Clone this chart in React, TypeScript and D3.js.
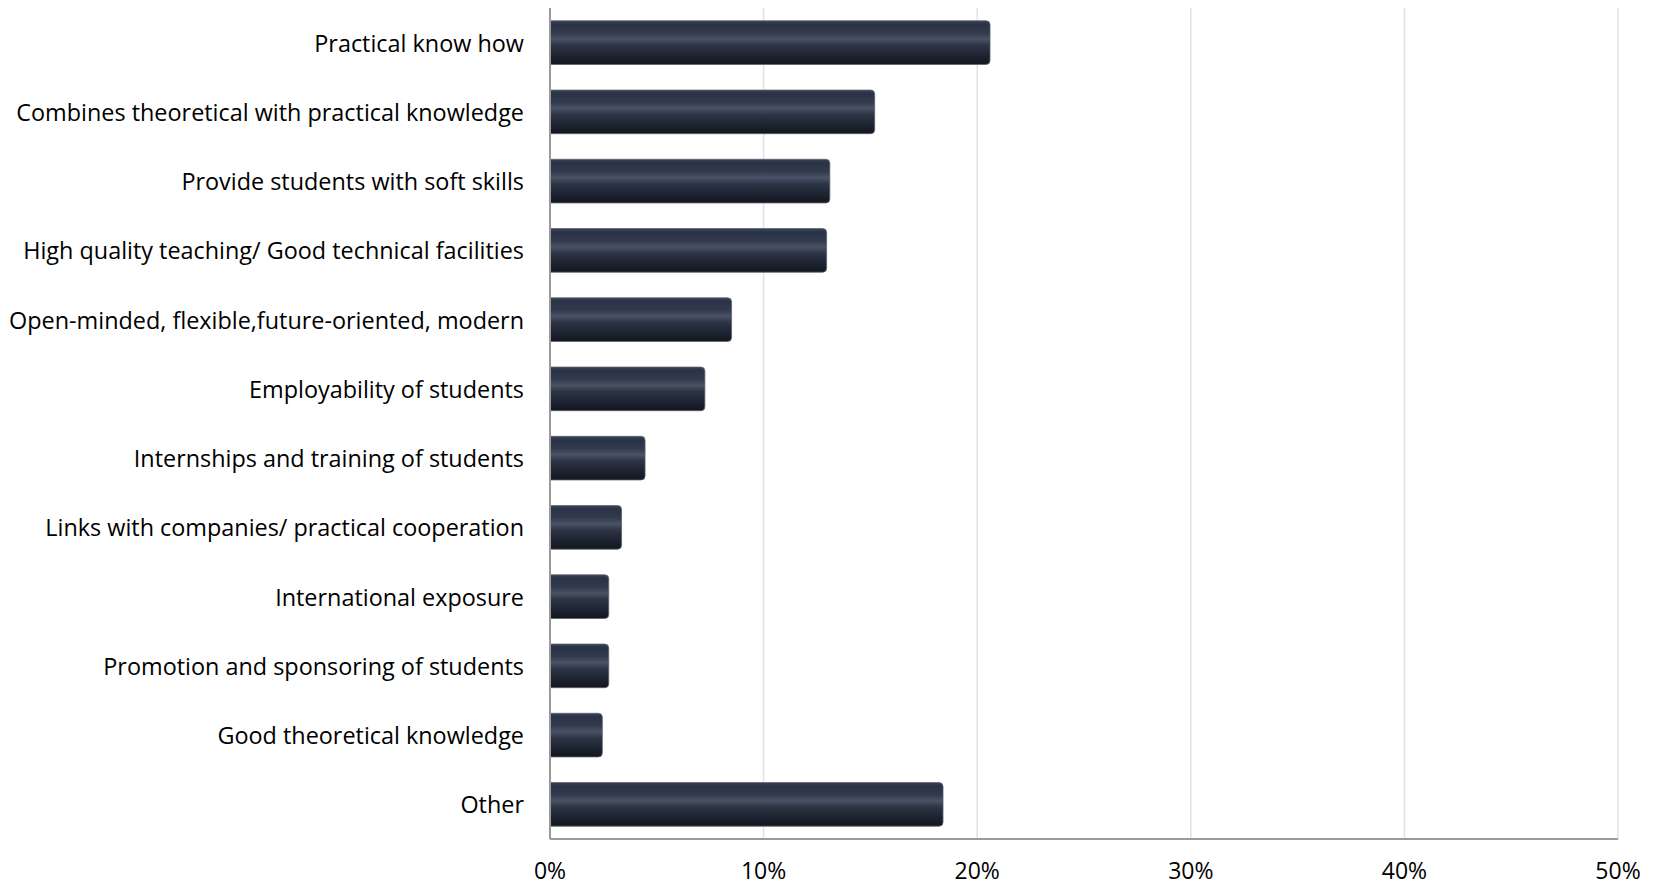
import React from "react";
import * as d3 from "d3";

const categories: string[] = [
  "Practical know how",
  "Combines theoretical with practical knowledge",
  "Provide students with soft skills",
  "High quality teaching/ Good technical facilities",
  "Open-minded, flexible,future-oriented, modern",
  "Employability of students",
  "Internships and training of students",
  "Links with companies/ practical cooperation",
  "International exposure",
  "Promotion and sponsoring of students",
  "Good theoretical knowledge",
  "Other",
];

const values: number[] = [20.6, 15.2, 13.1, 12.95, 8.5, 7.25, 4.45, 3.35, 2.75, 2.75, 2.45, 18.4];

const xTicks: number[] = [0, 10, 20, 30, 40, 50];

const W = 1654;
const H = 885;
const M = { left: 550, right: 36, top: 8, bottom: 46 };

export default function App() {
  const x = d3.scaleLinear().domain([0, 50]).range([M.left, W - M.right]);
  const y = d3
    .scaleBand<string>()
    .domain(categories)
    .range([M.top, H - M.bottom])
    .paddingInner(0.37)
    .paddingOuter(0.185);
  const bh = y.bandwidth();
  const font = "'Open Sans', 'Noto Sans', sans-serif";
  const r = 4;

  const barPath = (x0: number, x1: number, y0: number, h: number) => {
    const p = d3.path();
    p.moveTo(x0, y0);
    p.lineTo(x1 - r, y0);
    p.quadraticCurveTo(x1, y0, x1, y0 + r);
    p.lineTo(x1, y0 + h - r);
    p.quadraticCurveTo(x1, y0 + h, x1 - r, y0 + h);
    p.lineTo(x0, y0 + h);
    p.closePath();
    return p.toString();
  };

  return (
    <svg width={W} height={H} style={{ position: "absolute", left: 0, top: 0, background: "#fff" }}>
      <defs>
        <linearGradient id="barGrad" x1="0" y1="0" x2="0" y2="1">
          <stop offset="0" stopColor="#3b4354" />
          <stop offset="0.08" stopColor="#2a3345" />
          <stop offset="0.28" stopColor="#323b4d" />
          <stop offset="0.42" stopColor="#4a5365" />
          <stop offset="0.56" stopColor="#2d3546" />
          <stop offset="0.8" stopColor="#1d2330" />
          <stop offset="1" stopColor="#12161e" />
        </linearGradient>
      </defs>
      {xTicks.slice(1).map((t) => (
        <line key={t} x1={x(t)} x2={x(t)} y1={M.top} y2={H - M.bottom} stroke="#dfe3e8" strokeWidth={1.5} />
      ))}
      {categories.map((c, i) => (
        <path
          key={c}
          d={barPath(x(0), x(values[i]), y(c)!, bh)}
          fill="url(#barGrad)"
          stroke="#5a6170"
          strokeWidth={0.8}
        />
      ))}
      <line x1={x(0)} x2={x(0)} y1={M.top} y2={H - M.bottom} stroke="#9a9a9a" strokeWidth={2} />
      <line x1={x(0)} x2={x(50)} y1={H - M.bottom} y2={H - M.bottom} stroke="#9a9a9a" strokeWidth={2} />
      {categories.map((c) => (
        <text
          key={c}
          x={524}
          y={y(c)! + bh / 2}
          textAnchor="end"
          dominantBaseline="central"
          fontFamily={font}
          fontSize={23.4}
          fill="#000"
        >
          {c}
        </text>
      ))}
      {xTicks.map((t) => (
        <text
          key={t}
          x={x(t)}
          y={870}
          textAnchor="middle"
          dominantBaseline="central"
          fontFamily={font}
          fontSize={23}
          fill="#000"
        >
          {t + "%"}
        </text>
      ))}
    </svg>
  );
}
